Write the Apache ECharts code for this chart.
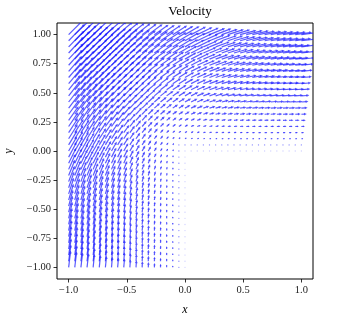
<!DOCTYPE html>
<html>
<head>
<meta charset="utf-8">
<script src="https://cdn.jsdelivr.net/npm/echarts@6/dist/echarts.min.js"></script>
<style>html,body{margin:0;padding:0;background:#fff}#c{width:337px;height:316px}</style>
</head>
<body>
<div id="c"></div>
<script>
const titleText = 'Velocity';
const xTicks = [-1, -0.5, 0, 0.5, 1];
const yTicks = [-1, -0.75, -0.5, -0.25, 0, 0.25, 0.5, 0.75, 1];

const xValues = [-1, -0.9474, -0.8947, -0.8421, -0.7895, -0.7368, -0.6842, -0.6316, -0.5789, -0.5263, -0.4737, -0.4211, -0.3684, -0.3158, -0.2632, -0.2105, -0.1579, -0.1053, -0.0526, 0, 0.0526, 0.1053, 0.1579, 0.2105, 0.2632, 0.3158, 0.3684, 0.4211, 0.4737, 0.5263, 0.5789, 0.6316, 0.6842, 0.7368, 0.7895, 0.8421, 0.8947, 0.9474, 1];
const yValues = [1, 0.9474, 0.8947, 0.8421, 0.7895, 0.7368, 0.6842, 0.6316, 0.5789, 0.5263, 0.4737, 0.4211, 0.3684, 0.3158, 0.2632, 0.2105, 0.1579, 0.1053, 0.0526, 0, -0.0526, -0.1053, -0.1579, -0.2105, -0.2632, -0.3158, -0.3684, -0.4211, -0.4737, -0.5263, -0.5789, -0.6316, -0.6842, -0.7368, -0.7895, -0.8421, -0.8947, -0.9474, -1];

// direction of each arrow (degrees, counter-clockwise from +x), one row per y value
const angleDeg = [
[45,44,44,43,43,42,41,41,40,39,38,38,37,36,35,34,33,32,31,30,28,26,24,22,21,19,18,17,15,14,13,12,11,11,10,9,9,8,7],
[46,45,45,44,43,43,42,41,41,40,39,38,37,36,35,34,33,32,31,30,28,26,24,22,21,19,18,16,15,14,13,12,11,10,10,9,8,8,7],
[46,46,45,44,44,43,43,42,41,40,39,38,38,37,36,34,33,32,31,30,28,26,24,22,20,19,17,16,15,14,13,12,11,10,9,9,8,7,7],
[47,46,46,45,44,44,43,42,42,41,40,39,38,37,36,35,34,32,31,30,28,26,24,22,20,19,17,16,15,13,12,11,11,10,9,8,8,7,7],
[47,47,46,46,45,44,44,43,42,41,40,39,38,37,36,35,34,33,31,30,28,26,23,22,20,18,17,15,14,13,12,11,10,9,9,8,7,7,6],
[48,47,47,46,46,45,44,44,43,42,41,40,39,38,37,35,34,33,31,30,28,25,23,21,20,18,16,15,14,13,12,11,10,9,8,8,7,6,6],
[49,48,48,47,46,46,45,44,43,43,42,41,39,38,37,36,34,33,32,30,27,25,23,21,19,17,16,15,13,12,11,10,9,9,8,7,7,6,6],
[49,49,48,48,47,47,46,45,44,43,42,41,40,39,38,36,35,33,32,30,27,25,23,21,19,17,15,14,13,12,11,10,9,8,7,7,6,6,5],
[50,50,49,49,48,47,47,46,45,44,43,42,41,40,38,37,35,33,32,30,27,25,22,20,18,16,15,13,12,11,10,9,8,8,7,6,6,5,5],
[51,50,50,49,49,48,48,47,46,45,44,43,42,40,39,37,36,34,32,30,27,24,22,20,18,16,14,13,11,10,9,9,8,7,6,6,5,5,5],
[52,51,51,50,50,49,48,48,47,46,45,44,43,41,40,38,36,34,32,30,27,24,21,19,17,15,13,12,11,10,9,8,7,7,6,5,5,5,4],
[52,52,52,51,51,50,50,49,48,47,46,45,44,42,41,39,37,35,32,30,27,24,21,18,16,14,13,11,10,9,8,7,7,6,5,5,4,4,4],
[53,53,53,52,52,51,51,50,49,48,47,46,45,44,42,40,38,35,33,30,26,23,20,17,15,13,12,10,9,8,7,6,6,5,5,4,4,4,3],
[54,54,54,53,53,52,52,51,51,50,49,48,47,45,43,41,39,36,33,30,26,22,19,16,14,12,10,9,8,7,6,6,5,5,4,4,3,3,3],
[55,55,55,54,54,53,53,53,52,51,50,49,48,47,45,43,40,37,34,30,25,21,18,15,12,11,9,8,7,6,5,5,4,4,4,3,3,3,2],
[56,56,56,55,55,55,54,54,53,53,52,51,50,49,47,45,42,39,35,30,24,20,16,13,11,9,8,7,6,5,4,4,4,3,3,3,2,2,2],
[57,57,57,57,56,56,56,55,55,54,54,53,52,51,50,48,45,41,36,30,23,17,13,11,9,7,6,5,4,4,3,3,3,2,2,2,2,2,1],
[58,58,58,58,58,57,57,57,57,56,56,55,55,54,53,51,49,45,39,30,20,14,10,8,6,5,4,4,3,3,2,2,2,2,1,1,1,1,1],
[59,59,59,59,59,59,59,58,58,58,58,58,57,57,56,55,54,51,45,30,14,8,5,4,3,3,2,2,2,1,1,1,1,1,1,1,1,1,0],
[60,60,60,60,60,60,60,60,60,60,60,60,60,60,60,60,60,60,60,45,0,0,0,0,0,0,0,0,0,0,0,0,0,0,0,0,0,0,0],
[62,62,62,62,62,62,63,63,63,63,63,63,64,64,65,66,67,70,76,90],
[64,64,64,64,64,65,65,65,65,66,66,66,67,68,69,70,73,76,82,90],
[66,66,66,66,67,67,67,67,68,68,69,69,70,71,72,74,77,80,85,90],
[68,68,68,68,68,69,69,69,70,70,71,72,73,74,75,77,79,82,86,90],
[69,69,70,70,70,70,71,71,72,72,73,74,75,76,78,79,81,84,87,90],
[71,71,71,71,72,72,73,73,74,74,75,76,77,78,79,81,83,85,87,90],
[72,72,73,73,73,74,74,75,75,76,77,77,78,80,81,82,84,86,88,90],
[73,74,74,74,75,75,75,76,77,77,78,79,80,81,82,83,85,86,88,90],
[75,75,75,75,76,76,77,77,78,79,79,80,81,82,83,84,86,87,88,90],
[76,76,76,77,77,77,78,78,79,80,80,81,82,83,84,85,86,87,89,90],
[77,77,77,78,78,78,79,79,80,81,81,82,83,84,85,86,87,88,89,90],
[78,78,78,79,79,79,80,80,81,81,82,83,84,84,85,86,87,88,89,90],
[79,79,79,79,80,80,81,81,82,82,83,83,84,85,86,86,87,88,89,90],
[79,80,80,80,81,81,81,82,82,83,83,84,85,85,86,87,88,88,89,90],
[80,80,81,81,81,82,82,83,84,84,84,85,85,86,86,87,88,89,89,90],
[81,81,81,82,82,82,83,83,84,84,85,85,86,86,87,87,88,89,89,90],
[81,82,82,82,83,83,83,84,84,85,85,86,86,87,87,88,88,89,89,90],
[82,82,83,83,83,84,84,84,85,85,85,86,86,87,87,88,88,89,89,90],
[83,83,83,83,84,84,84,85,85,85,86,86,87,87,88,88,89,89,90,90]
];

// speed of each arrow (x100), same layout as angleDeg
const speed = [
[141,138,134,131,127,124,121,118,116,113,111,109,107,105,103,102,101,101,100,100,100,100,100,100,100,100,100,100,100,100,100,100,100,100,100,100,100,100,100],
[138,134,130,127,123,120,117,114,111,108,106,104,102,100,98,97,96,95,95,95,95,95,95,95,95,95,95,95,95,95,95,95,95,95,95,95,95,95,95],
[134,130,127,123,119,116,113,110,107,104,101,99,97,95,93,92,91,90,90,89,89,89,89,89,89,89,89,89,89,89,89,89,89,89,89,89,89,89,89],
[131,127,123,119,115,112,109,105,102,99,97,94,92,90,88,87,86,85,84,84,84,84,84,84,84,84,84,84,84,84,84,84,84,84,84,84,84,84,84],
[127,123,119,115,112,108,104,101,98,95,92,89,87,85,83,82,81,80,79,79,79,79,79,79,79,79,79,79,79,79,79,79,79,79,79,79,79,79,79],
[124,120,116,112,108,104,101,97,94,91,88,85,82,80,78,77,75,74,74,74,74,74,74,74,74,74,74,74,74,74,74,74,74,74,74,74,74,74,74],
[121,117,113,109,104,101,97,93,90,86,83,80,78,75,73,72,70,69,69,68,68,68,68,68,68,68,68,68,68,68,68,68,68,68,68,68,68,68,68],
[118,114,110,105,101,97,93,89,86,82,79,76,73,71,68,67,65,64,63,63,63,63,63,63,63,63,63,63,63,63,63,63,63,63,63,63,63,63,63],
[116,111,107,102,98,94,90,86,82,78,75,72,69,66,64,62,60,59,58,58,58,58,58,58,58,58,58,58,58,58,58,58,58,58,58,58,58,58,58],
[113,108,104,99,95,91,86,82,78,74,71,67,64,61,59,57,55,54,53,53,53,53,53,53,53,53,53,53,53,53,53,53,53,53,53,53,53,53,53],
[111,106,101,97,92,88,83,79,75,71,67,63,60,57,54,52,50,49,48,47,47,47,47,47,47,47,47,47,47,47,47,47,47,47,47,47,47,47,47],
[109,104,99,94,89,85,80,76,72,67,63,60,56,53,50,47,45,43,42,42,42,42,42,42,42,42,42,42,42,42,42,42,42,42,42,42,42,42,42],
[107,102,97,92,87,82,78,73,69,64,60,56,52,49,45,42,40,38,37,37,37,37,37,37,37,37,37,37,37,37,37,37,37,37,37,37,37,37,37],
[105,100,95,90,85,80,75,71,66,61,57,53,49,45,41,38,35,33,32,32,32,32,32,32,32,32,32,32,32,32,32,32,32,32,32,32,32,32,32],
[103,98,93,88,83,78,73,68,64,59,54,50,45,41,37,34,31,28,27,26,26,26,26,26,26,26,26,26,26,26,26,26,26,26,26,26,26,26,26],
[102,97,92,87,82,77,72,67,62,57,52,47,42,38,34,30,26,24,22,21,21,21,21,21,21,21,21,21,21,21,21,21,21,21,21,21,21,21,21],
[101,96,91,86,81,75,70,65,60,55,50,45,40,35,31,26,22,19,17,16,16,16,16,16,16,16,16,16,16,16,16,16,16,16,16,16,16,16,16],
[101,95,90,85,80,74,69,64,59,54,49,43,38,33,28,24,19,15,12,11,11,11,11,11,11,11,11,11,11,11,11,11,11,11,11,11,11,11,11],
[100,95,90,84,79,74,69,63,58,53,48,42,37,32,27,22,17,12,7,5,5,5,5,5,5,5,5,5,5,5,5,5,5,5,5,5,5,5,5],
[100,95,89,84,79,74,68,63,58,53,47,42,37,32,26,21,16,11,5,0,0,0,0,0,0,0,0,0,0,0,0,0,0,0,0,0,0,0,0],
[100,95,89,84,79,74,68,63,58,53,47,42,37,32,26,21,16,11,5,0],
[100,95,89,84,79,74,68,63,58,53,47,42,37,32,26,21,16,11,5,0],
[100,95,89,84,79,74,68,63,58,53,47,42,37,32,26,21,16,11,5,0],
[100,95,89,84,79,74,68,63,58,53,47,42,37,32,26,21,16,11,5,0],
[100,95,89,84,79,74,68,63,58,53,47,42,37,32,26,21,16,11,5,0],
[100,95,89,84,79,74,68,63,58,53,47,42,37,32,26,21,16,11,5,0],
[100,95,89,84,79,74,68,63,58,53,47,42,37,32,26,21,16,11,5,0],
[100,95,89,84,79,74,68,63,58,53,47,42,37,32,26,21,16,11,5,0],
[100,95,89,84,79,74,68,63,58,53,47,42,37,32,26,21,16,11,5,0],
[100,95,89,84,79,74,68,63,58,53,47,42,37,32,26,21,16,11,5,0],
[100,95,89,84,79,74,68,63,58,53,47,42,37,32,26,21,16,11,5,0],
[100,95,89,84,79,74,68,63,58,53,47,42,37,32,26,21,16,11,5,0],
[100,95,89,84,79,74,68,63,58,53,47,42,37,32,26,21,16,11,5,0],
[100,95,89,84,79,74,68,63,58,53,47,42,37,32,26,21,16,11,5,0],
[100,95,89,84,79,74,68,63,58,53,47,42,37,32,26,21,16,11,5,0],
[100,95,89,84,79,74,68,63,58,53,47,42,37,32,26,21,16,11,5,0],
[100,95,89,84,79,74,68,63,58,53,47,42,37,32,26,21,16,11,5,0],
[100,95,89,84,79,74,68,63,58,53,47,42,37,32,26,21,16,11,5,0],
[100,95,89,84,79,74,68,63,58,53,47,42,37,32,26,21,16,11,5,0]
];

const arrowScale = 0.145; // data units of arrow length per unit speed
const blue = 'rgba(20,20,255,0.7)';
const serif = "'Liberation Serif', 'DejaVu Serif', serif";

const arrows = [];
for (let r = 0; r < yValues.length; r++) {
  for (let c = 0; c < angleDeg[r].length; c++) {
    arrows.push([xValues[c], yValues[r], angleDeg[r][c], speed[r][c] / 100]);
  }
}

function fmt(v, d) {
  const s = Math.abs(v).toFixed(d);
  return (v < -1e-9 ? '\u2212' : '') + s;
}

function renderArrow(params, api) {
  const x = api.value(0), y = api.value(1);
  const a = api.value(2) * Math.PI / 180, m = api.value(3);
  const p0 = api.coord([x, y]);
  const p1 = api.coord([x + arrowScale * m * Math.cos(a), y + arrowScale * m * Math.sin(a)]);
  const dx = p1[0] - p0[0], dy = p1[1] - p0[1];
  const len = Math.sqrt(dx * dx + dy * dy);
  if (len < 1.3) {
    return {type: 'circle', shape: {cx: p0[0], cy: p0[1], r: 0.65},
      style: {fill: 'rgba(40,40,255,' + (len < 0.3 ? 0.22 : 0.55) + ')'}};
  }
  const ux = dx / len, uy = dy / len;
  const hl = Math.min(2.8, len * 0.5), hw = hl * 0.5;
  const bx = p1[0] - ux * hl, by = p1[1] - uy * hl;
  return {
    type: 'group',
    children: [
      {type: 'line', shape: {x1: p0[0], y1: p0[1], x2: bx + ux * 0.5, y2: by + uy * 0.5},
        style: {stroke: blue, lineWidth: 1.2}},
      {type: 'polygon', shape: {points: [[p1[0], p1[1]], [bx - uy * hw, by + ux * hw], [bx + uy * hw, by - ux * hw]]},
        style: {fill: blue}}
    ]
  };
}

const chart = echarts.init(document.getElementById('c'), null, {renderer: 'canvas'});
chart.setOption({
  animation: false,
  backgroundColor: '#fff',
  title: {
    text: titleText, left: 185, top: 0, textAlign: 'center',
    textStyle: {fontFamily: serif, fontSize: 13, fontWeight: 'normal', color: '#000'}
  },
  grid: {left: 57, right: 24, top: 23, bottom: 37, show: true, borderColor: '#000', borderWidth: 1,
    containLabel: false, outerBoundsMode: 'none'},
  xAxis: {
    type: 'value', min: -1.1, max: 1.1,
    name: 'x', nameLocation: 'middle', nameGap: 25,
    nameTextStyle: {fontFamily: serif, fontStyle: 'italic', fontSize: 12, color: '#000'},
    axisLine: {show: false, onZero: false},
    splitLine: {show: false},
    axisTick: {show: true, inside: false, customValues: xTicks, length: 3.5, lineStyle: {color: '#000', width: 0.8}},
    axisLabel: {customValues: xTicks, formatter: v => fmt(v, 1), fontFamily: serif, fontSize: 10.5, color: '#222', margin: 6}
  },
  yAxis: {
    type: 'value', min: -1.1, max: 1.1,
    name: 'y', nameLocation: 'middle', nameGap: 42,
    nameTextStyle: {fontFamily: serif, fontStyle: 'italic', fontSize: 12, color: '#000'},
    axisLine: {show: false, onZero: false},
    splitLine: {show: false},
    axisTick: {show: true, inside: false, customValues: yTicks, length: 3.5, lineStyle: {color: '#000', width: 0.8}},
    axisLabel: {customValues: yTicks, formatter: v => fmt(v, 2), fontFamily: serif, fontSize: 10.5, color: '#222', margin: 6}
  },
  series: [{
    type: 'custom',
    clip: true,
    data: arrows,
    renderItem: renderArrow,
    silent: true
  }]
});
</script>
</body>
</html>
